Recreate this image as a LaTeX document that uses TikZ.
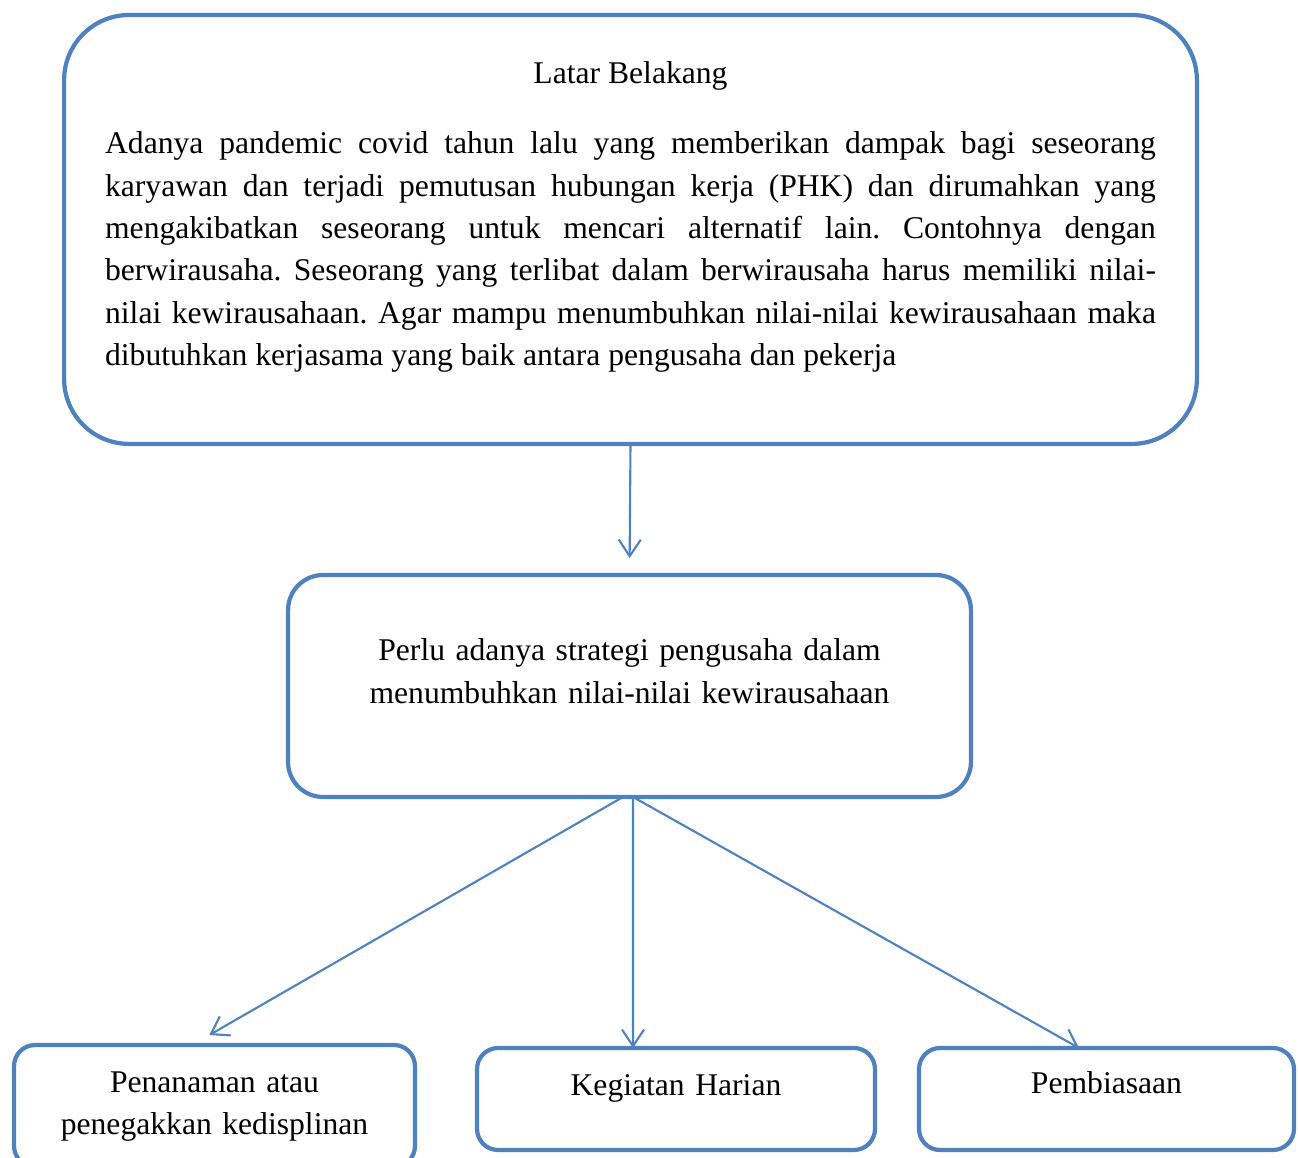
\documentclass[tikz,border=0pt]{standalone}
\usepackage{fontspec}
\setmainfont{Liberation Serif}
\usetikzlibrary{arrows.meta,positioning}
\definecolor{officeblue}{HTML}{4F81BD}
\frenchspacing
\tikzset{
  box/.style={rectangle, draw=officeblue, fill=white, line width=2.4pt, inner sep=0pt, outer sep=0pt,
              font=\fontsize{18}{24.1}\selectfont},
  bigbox/.style={box, rounded corners=1.3cm},
  midbox/.style={box, rounded corners=0.7cm},
  smallbox/.style={box, rounded corners=0.42cm, align=center},
  flow/.style={-{Straight Barb[length=0.33cm, width=0.44cm]}, draw=officeblue, line width=1.2pt},
}
\begin{document}
\begin{tikzpicture}[x=0.02cm, y=-0.02cm]
\useasboundingbox (0,0) rectangle (1298,1157);
\node[bigbox, anchor=north, minimum width=22.66cm, text width=21.02cm, align=justify,
      text height=1.38cm, text depth=7.2cm] (latar) at (630.5,15)
  {{\centering Latar Belakang\par}\vspace{0.55cm}\hyphenpenalty=10000
   Adanya pandemic covid tahun lalu yang memberikan dampak bagi seseorang\linebreak
   karyawan dan terjadi pemutusan hubungan kerja (PHK) dan dirumahkan yang\linebreak
   mengakibatkan seseorang untuk mencari alternatif lain. Contohnya dengan\linebreak
   berwirausaha. Seseorang yang terlibat dalam berwirausaha harus memiliki nilai-\linebreak
   nilai kewirausahaan. Agar mampu menumbuhkan nilai-nilai kewirausahaan maka\linebreak
   dibutuhkan kerjasama yang baik antara pengusaha dan pekerja};
\node[midbox, anchor=north, minimum width=13.66cm, text width=12.5cm, align=center,
      text height=1.72cm, text depth=2.72cm] (strategi) at (629.5,575)
  {Perlu adanya strategi pengusaha dalam\\menumbuhkan nilai-nilai kewirausahaan};
\node[smallbox, anchor=north, minimum width=8.02cm, text width=7.5cm,
      text height=0.94cm, text depth=1.5cm] (disiplin) at (214.5,1045)
  {Penanaman atau\\penegakkan kedisplinan};
\node[smallbox, anchor=north, minimum width=7.96cm, text width=7.5cm,
      text height=0.94cm, text depth=1.1cm] (harian) at (676,1048) {Kegiatan Harian};
\node[smallbox, anchor=north, minimum width=7.5cm, text width=7cm,
      text height=0.9cm, text depth=1.14cm] (biasa) at (1106.5,1048) {Pembiasaan};
\draw[flow, shorten >=0.34cm] (latar.south) -- (strategi.north);
\draw[flow, shorten >=0.4cm] ([xshift=-0.13cm]strategi.south) -- ([xshift=-0.45cm]disiplin.north);
\draw[flow] ([xshift=0.07cm]strategi.south) -- ([xshift=-0.86cm]harian.north);
\draw[flow] ([xshift=0.07cm]strategi.south) -- ([xshift=-0.55cm]biasa.north);
\end{tikzpicture}
\end{document}
